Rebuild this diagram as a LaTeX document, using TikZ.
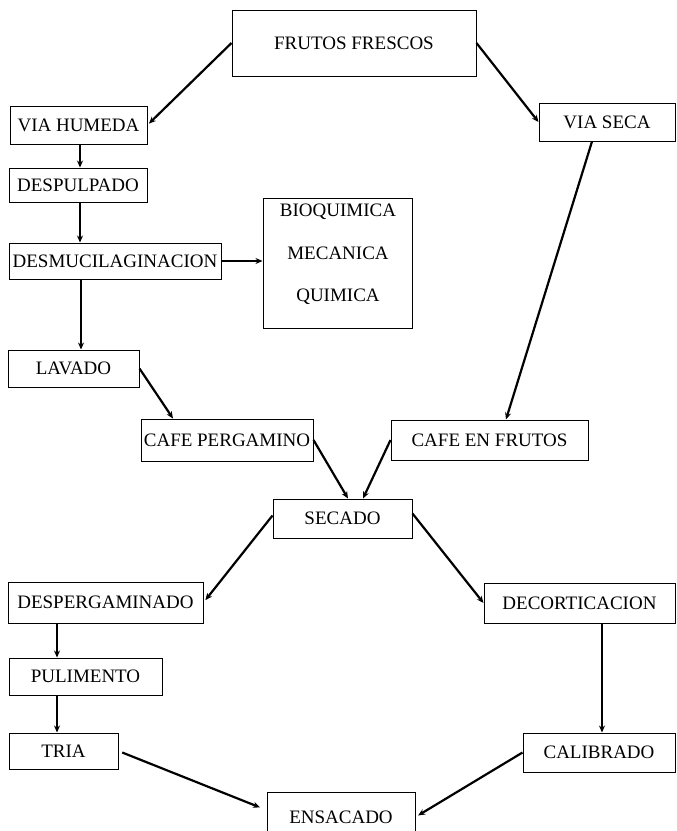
\documentclass[tikz,border=0pt]{standalone}
\usepackage{fontspec}
\setmainfont{Liberation Serif}
\usetikzlibrary{arrows.meta,calc}
\begin{document}
\begin{tikzpicture}[x=1pt,y=-1pt,
  box/.style={draw, line width=1pt, inner sep=0pt, font=\fontsize{19}{21}\selectfont},
  lbl/.style={inner sep=0pt, font=\fontsize{19}{21}\selectfont},
  arr/.style={line width=2.2pt, -{Stealth[length=7pt,width=6pt]}}]
\useasboundingbox (0,0) rectangle (677,831);
\clip (0,0) rectangle (677,831);
% nodes
\node[box, minimum width=244pt, minimum height=66pt] (fr) at (354,43) {FRUTOS FRESCOS};
\node[box, minimum width=137pt, minimum height=38pt] (vh) at (78.5,125) {VIA HUMEDA};
\node[box, minimum width=136pt, minimum height=38pt] (vs) at (607,122) {VIA SECA};
\node[box, minimum width=138pt, minimum height=34pt] (dp) at (78,185) {DESPULPADO};
\node[box, minimum width=212pt, minimum height=36pt] (dm) at (115,261) {DESMUCILAGINACION};
\node[box, minimum width=149pt, minimum height=130pt] (mt) at (337.5,263) {};
\node[lbl] (bq) at (338,212) {BIOQUIMICA};
\node[lbl] (me) at (338,253) {MECANICA};
\node[lbl] (qu) at (338,297) {QUIMICA};
\node[box, minimum width=131pt, minimum height=37pt] (lv) at (73.5,368.5) {LAVADO};
\node[box, minimum width=172pt, minimum height=42pt] (cp) at (227,440) {CAFE PERGAMINO};
\node[box, minimum width=197pt, minimum height=40pt] (cf) at (489.5,440) {CAFE EN FRUTOS};
\node[box, minimum width=139pt, minimum height=39pt] (sc) at (342.5,518.5) {SECADO};
\node[box, minimum width=195pt, minimum height=41pt] (dg) at (105.5,602.5) {DESPERGAMINADO};
\node[box, minimum width=191pt, minimum height=40pt] (dc) at (579.5,603) {DECORTICACION};
\node[box, minimum width=153pt, minimum height=37pt] (pu) at (85.5,676.5) {PULIMENTO};
\node[box, minimum width=109pt, minimum height=36pt] (tr) at (63.5,751) {TRIA};
\node[box, minimum width=152pt, minimum height=39pt] (cb) at (599,752.5) {CALIBRADO};
\node[box, minimum width=148pt, minimum height=50pt] (en) at (341,817) {ENSACADO};
% connectors
\draw[arr, shorten >=2pt] (fr.west) -- (vh.east);
\draw[arr] (fr.east) -- (vs.west);
\draw[arr] ([xshift=1.5pt]vh.south) -- ([xshift=2pt]dp.north);
\draw[arr] ([xshift=-35pt]dm.north |- dp.south) -- ([xshift=-35pt]dm.north);
\draw[arr] (dm.east) -- (dm.east -| mt.west);
\draw[arr] ([xshift=-34pt]dm.south) -- ([xshift=7.5pt]lv.north);
\draw[arr] (lv.east) -- ([xshift=-54pt]cp.north);
\draw[arr] (cp.east) -- ([xshift=5.5pt]sc.north);
\draw[arr] ([xshift=-15pt]vs.south) -- ([xshift=16.5pt]cf.north);
\draw[arr] (cf.west) -- ([xshift=20.5pt]sc.north);
\draw[arr, shorten >=3pt] ([yshift=3pt]sc.west) -- (dg.east);
\draw[arr] ([yshift=5pt]sc.east) -- (dc.west);
\draw[arr] ([xshift=-48.5pt]dg.south) -- ([xshift=-28.5pt]pu.north);
\draw[arr] ([xshift=-28.5pt]pu.south) -- ([xshift=-6.5pt]tr.north);
\draw[arr] ([xshift=22.5pt]dc.south) -- ([xshift=3pt]cb.north);
\draw[arr, shorten <=4pt, shorten >=7pt] (tr.east) -- ([yshift=7pt]en.west);
\draw[arr, shorten >=3pt] (cb.west) -- (en.east);
\end{tikzpicture}
\end{document}
